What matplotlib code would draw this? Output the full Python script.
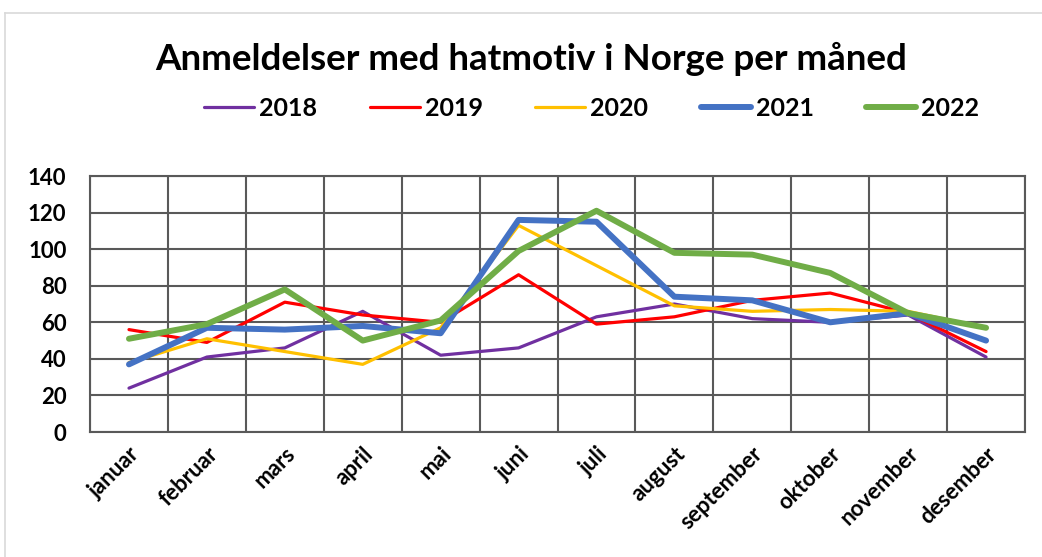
import numpy as np
import matplotlib.pyplot as plt
from matplotlib.ticker import FixedLocator

plt.rcParams['font.family'] = ['Lato', 'DejaVu Sans']

months = ['januar', 'februar', 'mars', 'april', 'mai', 'juni', 'juli',
          'august', 'september', 'oktober', 'november', 'desember']
y2018 = [24, 41, 46, 66, 42, 46, 63, 70, 62, 60, 64, 41]
y2019 = [56, 49, 71, 64, 60, 86, 59, 63, 72, 76, 65, 44]
y2020 = [38, 51, 44, 37, 57, 113, 91, 69, 66, 67, 66, 57]
y2021 = [37, 57, 56, 58, 54, 116, 115, 74, 72, 60, 65, 50]
y2022 = [51, 59, 78, 50, 61, 99, 121, 98, 97, 87, 65, 57]
years = ['2018', '2019', '2020', '2021', '2022']
colors = ['#7030A0', '#FF0000', '#FFC000', '#4472C4', '#70AD47']
widths = [2.3, 2.3, 2.3, 4.3, 4.3]

fig = plt.figure(figsize=(10.42, 5.57), dpi=100)
ax = fig.add_axes([0.0864, 0.2244, 0.8973, 0.4596])

x = np.arange(len(months))
for vals, lab, c, w in zip([y2018, y2019, y2020, y2021, y2022], years, colors, widths):
    ax.plot(x, vals, color=c, lw=w, label=lab, solid_capstyle='round', zorder=3)

ax.set_xlim(-0.5, 11.5)
ax.set_ylim(0, 140)
ax.set_yticks(range(0, 141, 20))
ax.set_xticks(x)
ax.xaxis.set_minor_locator(FixedLocator(np.arange(-0.5, 12, 1)))
ax.set_xticklabels(months, rotation=45, ha='right', rotation_mode='anchor',
                   fontsize=16, fontweight='bold')
for t in ax.get_yticklabels():
    t.set_fontsize(16)
    t.set_fontweight('bold')
ax.tick_params(axis='both', which='both', length=0)
ax.tick_params(axis='x', pad=8)
ax.tick_params(axis='y', pad=17)
ax.grid(True, axis='y', which='major', color='#595959', lw=1.5)
ax.grid(True, axis='x', which='minor', color='#595959', lw=1.5)
ax.grid(False, axis='x', which='major')
ax.set_axisbelow(True)
for s in ax.spines.values():
    s.set_color('#595959')
    s.set_linewidth(1.5)

fig.text(0.51, 0.895, 'Anmeldelser med hatmotiv i Norge per måned',
         ha='center', va='center', fontsize=26.5, fontweight='bold')
fig.legend(loc='center', bbox_to_anchor=(0.568, 0.805), ncol=5, frameon=False,
           prop={'size': 18, 'weight': 'bold'}, handlelength=2.0,
           columnspacing=2.1, handletextpad=0.2)

# light outer chart border
fig.add_artist(plt.Line2D([0.005, 1.0], [0.976, 0.976], color='#d9d9d9', lw=1.2,
                          transform=fig.transFigure))
fig.add_artist(plt.Line2D([0.005, 0.005], [0.0, 0.976], color='#d9d9d9', lw=1.2,
                          transform=fig.transFigure))

fig.savefig('out.png', dpi=100)
